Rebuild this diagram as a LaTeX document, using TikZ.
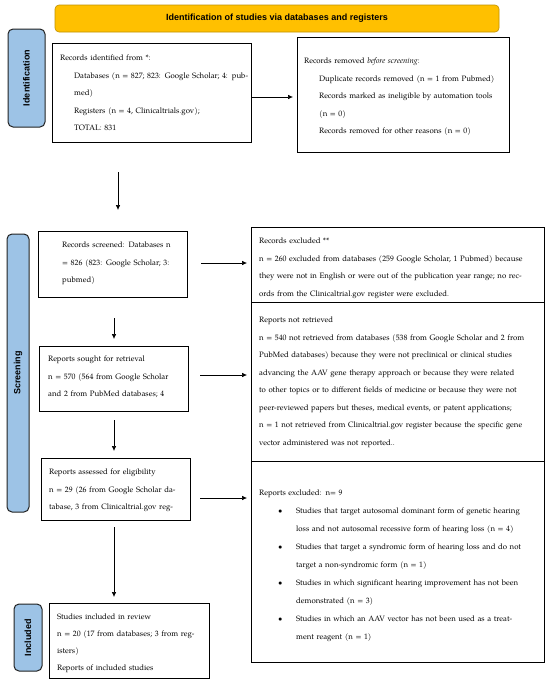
\documentclass[tikz,border=0pt]{standalone}
\usepackage{fontspec}
\setmainfont{TeX Gyre Pagella}
\newfontfamily\lsans{Liberation Sans}
\usetikzlibrary{arrows.meta}
\definecolor{bannerfill}{HTML}{FFC000}
\definecolor{bannerline}{HTML}{BF9000}
\definecolor{sidefill}{HTML}{9DC3E6}
\definecolor{sideline}{HTML}{222222}
\newcommand{\jl}[2]{\makebox[#1][s]{#2}}
\newcommand{\fl}{\rule{0pt}{6pt}}
\setlength{\parindent}{0pt}
\tikzset{
  box/.style={draw=black, line width=0.8pt, fill=white, inner sep=0pt, outer sep=0pt},
  side/.style={draw=sideline, fill=sidefill, line width=1pt, rounded corners=5pt, inner sep=0pt, outer sep=0pt, rotate=90, font=\lsans\bfseries\fontsize{9}{11}\selectfont},
  txt/.style={anchor=north west, inner sep=0pt, align=left, font=\fontsize{7.8}{17.5}\selectfont},
  arr/.style={-{Latex[length=5pt,width=4.5pt]}, line width=0.6pt},
}
\begin{document}
\begin{tikzpicture}[x=1pt,y=-1pt]
\useasboundingbox (0,0) rectangle (550,683);
% banner
\node[draw=bannerline, fill=bannerfill, line width=0.6pt, rounded corners=4pt, minimum width=444pt, minimum height=27pt, inner sep=0pt, font=\lsans\bfseries\fontsize{9}{11}\selectfont] (banner) at (277,18.5) {Identification of studies via databases and registers};
% side labels
\node[side, minimum width=98pt, minimum height=37pt] (sid) at (26.5,78) {Identification};
\node[side, minimum width=278pt, minimum height=22pt] (sscr) at (18,373) {Screening};
\node[side, minimum width=67pt, minimum height=28pt] (sinc) at (28,637.5) {Included};
% boxes
\node[box, minimum width=199pt, minimum height=99pt] (b1) at (151.5,92.5) {};
\node[box, minimum width=212pt, minimum height=115pt] (b2) at (403,94.5) {};
\node[box, minimum width=149pt, minimum height=66pt] (b3) at (112.5,264) {};
\node[box, minimum width=293pt, minimum height=75pt] (b4) at (397.5,264.5) {};
\node[box, minimum width=293pt, minimum height=159pt] (b5) at (397.5,381.5) {};
\node[box, minimum width=293pt, minimum height=201pt] (b6) at (397.5,561.5) {};
\node[box, minimum width=149pt, minimum height=65pt] (b7) at (113.5,378.5) {};
\node[box, minimum width=149pt, minimum height=62pt] (b8) at (115.5,489) {};
\node[box, minimum width=160pt, minimum height=75pt] (b9) at (129,640.5) {};
% texts
\node[txt, text width=190pt] (t1) at (60,54.5) {\fl Records identified from *:\\
\hspace*{14pt}\jl{168pt}{Databases (n = 827; 823: Google Scholar; 4: pub-}\\
\hspace*{14pt}med)\\
\hspace*{14pt}Registers (n = 4, Clinicaltrials.gov);\\
\hspace*{14pt}TOTAL: 831};
\node[txt, text width=205pt] (t2) at (304,57.5) {\fl Records removed \textit{before screening}:\\
\hspace*{15pt}Duplicate records removed (n = 1 from Pubmed)\\
\hspace*{15pt}\jl{181pt}{Records marked as ineligible by automation tools}\\
\hspace*{15pt}(n = 0)\\
\hspace*{15pt}Records removed for other reasons (n = 0)};
\node[txt, text width=120pt] (t3) at (62,241.5) {\fl\jl{117pt}{Records screened: Databases n}\\
\jl{117pt}{= 826 (823: Google Scholar; 3:}\\
pubmed)};
\node[txt, text width=280pt] (t4) at (259,237.5) {\fl Records excluded **\\
\jl{278pt}{n = 260 excluded from databases (259 Google Scholar, 1 Pubmed) because}\\
\jl{278pt}{they were not in English or were out of the publication year range; no rec-}\\
ords from the Clinicaltrial.gov register were excluded.};
\node[txt, text width=280pt] (t5) at (259,316.5) {\fl Reports not retrieved\\
\jl{278pt}{n = 540 not retrieved from databases (538 from Google Scholar and 2 from}\\
\jl{278pt}{PubMed databases) because they were not preclinical or clinical studies}\\
\jl{278pt}{advancing the AAV gene therapy approach or because they were related}\\
\jl{278pt}{to other topics or to different fields of medicine or because they were not}\\
peer-reviewed papers but theses, medical events, or patent applications;\\
\jl{278pt}{n = 1 not retrieved from Clinicaltrial.gov register because the specific gene}\\
vector administered was not reported..};
\node[txt, text width=280pt, font=\fontsize{7.8}{18}\selectfont] (t6) at (259,489.5) {\fl Reports excluded: n= 9\\
\makebox[37pt][l]{\hspace*{19pt}\textbullet}\jl{241pt}{Studies that target autosomal dominant form of genetic hearing}\\
\hspace*{37pt}loss and not autosomal recessive form of hearing loss (n = 4)\\
\makebox[37pt][l]{\hspace*{19pt}\textbullet}\jl{241pt}{Studies that target a syndromic form of hearing loss and do not}\\
\hspace*{37pt}target a non-syndromic form (n = 1)\\
\makebox[37pt][l]{\hspace*{19pt}\textbullet}\jl{241pt}{Studies in which significant hearing improvement has not been}\\
\hspace*{37pt}demonstrated (n = 3)\\
\makebox[37pt][l]{\hspace*{19pt}\textbullet}\jl{241pt}{Studies in which an AAV vector has not been used as a treat-}\\
\hspace*{37pt}ment reagent (n = 1)};
\node[txt, text width=135pt] (t7) at (48,355.5) {\fl Reports sought for retrieval\\
\jl{131pt}{n = 570 (564 from Google Scholar}\\
\jl{131pt}{and 2 from PubMed databases; 4}};
\node[txt, text width=135pt] (t8) at (49,468.5) {\fl Reports assessed for eligibility\\
\jl{132pt}{n = 29 (26 from Google Scholar da-}\\
\jl{132pt}{tabase, 3 from Clinicaltrial.gov reg-}};
\node[txt, text width=145pt, font=\fontsize{7.8}{17}\selectfont] (t9) at (57,613.5) {\fl Studies included in review\\
\jl{142pt}{n = 20 (17 from databases; 3 from reg-}\\
isters)\\
Reports of included studies};
% helper coordinates
\coordinate (ya1) at (0,97);
\coordinate (ya3) at (0,263);
\coordinate (ya5) at (0,375);
\coordinate (ya7) at (0,498);
\coordinate (x118) at (118,0);
\coordinate (x114) at (114,0);
% arrows
\draw[arr, shorten >=4pt] (b1.east |- ya1) -- (b2.west |- ya1);
\draw[arr, shorten <=30pt, shorten >=21pt] (b1.south -| x118) -- (b3.north -| x118);
\draw[arr, shorten <=14pt, shorten >=4pt] (b3.east |- ya3) -- (b4.west |- ya3);
\draw[arr, shorten <=21pt, shorten >=7pt] (b3.south -| x114) -- (b7.north -| x114);
\draw[arr, shorten <=12pt, shorten >=4pt] (b7.east |- ya5) -- (b5.west |- ya5);
\draw[arr, shorten <=9pt, shorten >=7pt] (b7.south -| x114) -- (b8.north -| x114);
\draw[arr, shorten <=10pt, shorten >=4pt] (b8.east |- ya7) -- (b6.west |- ya7);
\draw[arr, shorten <=7pt, shorten >=6pt] (b8.south -| x114) -- (b9.north -| x114);
\end{tikzpicture}
\end{document}
